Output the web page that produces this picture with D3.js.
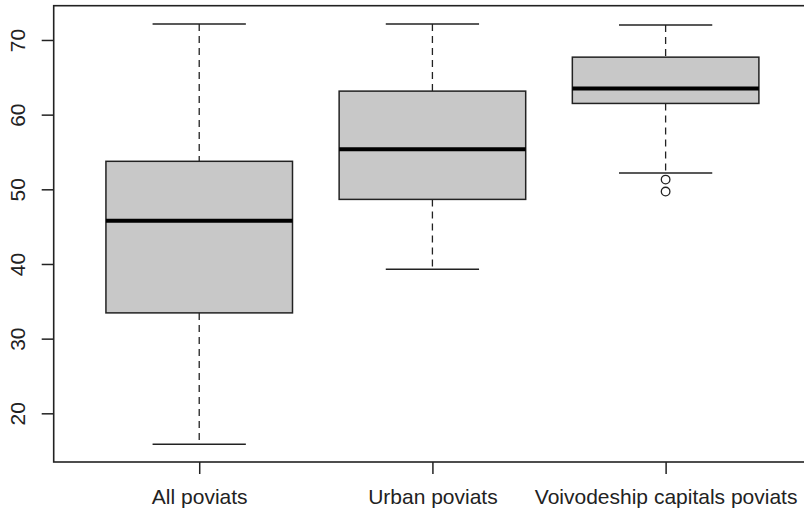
<!DOCTYPE html>
<html lang="en">

<head>
  <meta charset="UTF-8">
  <title>Boxplot</title>
  <style>
    body {
      margin: 0;
      background: #fff;
    }

    svg {
      display: block;
      font-family: "Liberation Sans", Arial, sans-serif;
    }

    .frame {
      fill: none;
      stroke: #222;
      stroke-width: 1.6;
    }

    .box {
      fill: #c8c8c8;
      stroke: #222;
      stroke-width: 1.5;
    }

    .median {
      stroke: #000;
      stroke-width: 4;
    }

    .whisker {
      stroke: #222;
      stroke-width: 1.3;
      stroke-dasharray: 7, 5;
    }

    .cap {
      stroke: #222;
      stroke-width: 1.5;
    }

    .outlier {
      fill: none;
      stroke: #222;
      stroke-width: 1.3;
    }

    .axis line {
      stroke: #222;
      stroke-width: 1.5;
    }

    .axis text {
      font-size: 21px;
      fill: #222;
    }
  </style>
</head>

<body>
  <div id="chart"></div>

  <script src="https://d3js.org/d3.v7.min.js"></script>

  <script>
    const categories = ["All poviats", "Urban poviats", "Voivodeship capitals poviats"];
    const whiskerLow = [15.85, 39.3, 52.2];
    const q1 = [33.45, 48.65, 61.5];
    const median = [45.8, 55.35, 63.5];
    const q3 = [53.75, 63.15, 67.7];
    const whiskerHigh = [72.15, 72.15, 72.0];
    const outliers = [[], [], [51.3, 49.7]];
    const yTicks = [20, 30, 40, 50, 60, 70];

    (function () {
      const width = 804;
      const height = 513;

      const left = 53.7, top = 5.7, bottom = 462, right = 810.2;

      const x = d3.scaleLinear()
        .domain([0.376, 3.62])
        .range([left, right]);

      const y = d3.scaleLinear()
        .domain([13.48, 74.59])
        .range([bottom, top]);

      const boxHalf = 0.4;
      const capHalf = 0.2;

      const data = categories.map((c, i) => ({
        name: c,
        pos: i + 1,
        lo: whiskerLow[i],
        q1: q1[i],
        med: median[i],
        q3: q3[i],
        hi: whiskerHigh[i],
        out: outliers[i]
      }));

      const svg = d3.select('#chart')
        .append('svg')
        .attr('width', width)
        .attr('height', height);

      const g = svg.append('g').classed('boxes', true);

      const item = g.selectAll('.item')
        .data(data)
        .enter()
        .append('g')
        .classed('item', true);

      // whiskers
      item.append('line')
        .classed('whisker', true)
        .attr('x1', d => x(d.pos))
        .attr('x2', d => x(d.pos))
        .attr('y1', d => y(d.hi))
        .attr('y2', d => y(d.q3));

      item.append('line')
        .classed('whisker', true)
        .attr('x1', d => x(d.pos))
        .attr('x2', d => x(d.pos))
        .attr('y1', d => y(d.q1))
        .attr('y2', d => y(d.lo));

      // caps
      ['hi', 'lo'].forEach(k => {
        item.append('line')
          .classed('cap', true)
          .attr('x1', d => x(d.pos - capHalf))
          .attr('x2', d => x(d.pos + capHalf))
          .attr('y1', d => y(d[k]))
          .attr('y2', d => y(d[k]));
      });

      // box
      item.append('rect')
        .classed('box', true)
        .attr('x', d => x(d.pos - boxHalf))
        .attr('width', d => x(d.pos + boxHalf) - x(d.pos - boxHalf))
        .attr('y', d => y(d.q3))
        .attr('height', d => y(d.q1) - y(d.q3));

      // median
      item.append('line')
        .classed('median', true)
        .attr('x1', d => x(d.pos - boxHalf))
        .attr('x2', d => x(d.pos + boxHalf))
        .attr('y1', d => y(d.med))
        .attr('y2', d => y(d.med));

      // outliers
      item.selectAll('.outlier')
        .data(d => d.out.map(v => ({ pos: d.pos, v: v })))
        .enter()
        .append('circle')
        .classed('outlier', true)
        .attr('cx', d => x(d.pos))
        .attr('cy', d => y(d.v))
        .attr('r', 4.3);

      // axes
      const yAxis = d3.axisLeft(y)
        .tickValues(yTicks)
        .tickSize(12)
        .tickFormat(d3.format('d'));

      const gy = svg.append('g')
        .classed('axis', true)
        .attr('transform', `translate(${left},0)`)
        .call(yAxis);
      gy.select('.domain').remove();
      gy.selectAll('text')
        .attr('x', 0)
        .attr('dy', 0)
        .attr('text-anchor', 'middle')
        .attr('transform', 'translate(-29,0) rotate(-90)');

      const xAxis = d3.axisBottom(x)
        .tickValues(data.map(d => d.pos))
        .tickSize(12)
        .tickPadding(15)
        .tickFormat((d, i) => categories[i]);

      const gx = svg.append('g')
        .classed('axis', true)
        .attr('transform', `translate(0,${bottom})`)
        .call(xAxis);
      gx.select('.domain').remove();

      // frame
      svg.append('rect')
        .classed('frame', true)
        .attr('x', left)
        .attr('y', top)
        .attr('width', right - left)
        .attr('height', bottom - top);

    })();
  </script>
</body>

</html>
